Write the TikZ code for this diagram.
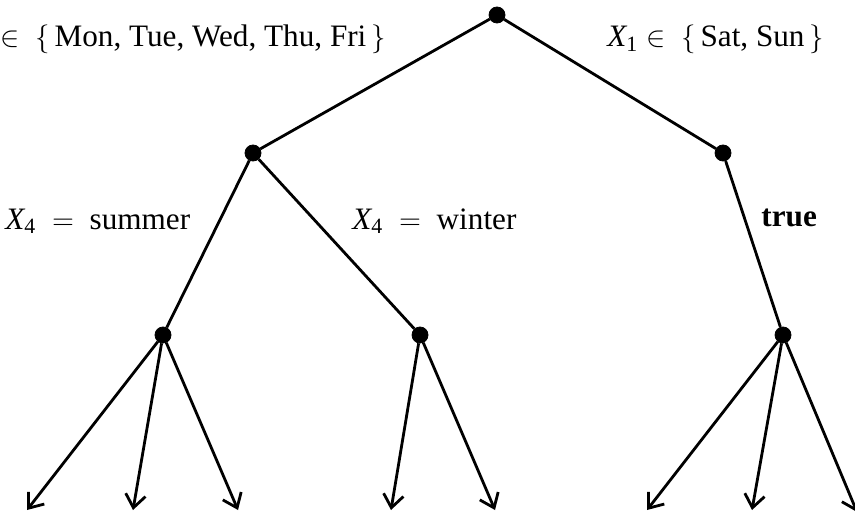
\documentclass[tikz,border=0pt]{standalone}
\usepackage{fontspec}
\setmainfont{Liberation Serif}
\usetikzlibrary{arrows.meta}
\tikzset{
    vertex/.style = {draw, fill=black, circle, inner sep=0pt, minimum size=8pt},
    branch/.style = {line width=1.4pt},
    leafarrow/.style = {line width=1.4pt, -{Straight Barb[length=6.5pt, width=10pt]}},
    cond/.style = {inner sep=0pt, anchor=base west, font=\fontsize{15.6}{18}\selectfont}
}

\begin{document}
\begin{tikzpicture}[x=0.5pt, y=-0.5pt]
\useasboundingbox (0,0) rectangle (855,513);

% decision nodes
\node[vertex] (root) at (497,15) {};
\node[vertex] (wkday) at (253,153) {};
\node[vertex] (wkend) at (723,153) {};
\node[vertex] (summer) at (163,335) {};
\node[vertex] (winter) at (420,335) {};
\node[vertex] (always) at (783,335) {};

% free ends of the leaf arrows
\coordinate (s1) at (27,510);
\coordinate (s2) at (133,510);
\coordinate (s3) at (238,510);
\coordinate (w1) at (391,510);
\coordinate (w2) at (495,510);
\coordinate (t1) at (647,510);
\coordinate (t2) at (752,510);
\coordinate (t3) at (857,512);

\draw[branch] (root) -- (wkday);
\draw[branch] (root) -- (wkend);
\draw[branch] (wkday) -- (summer);
\draw[branch] (wkday) -- (winter);
\draw[branch] (wkend) -- (always);

\foreach \leaf in {s1,s2,s3}
    \draw[leafarrow] (summer) -- (\leaf);
\foreach \leaf in {w1,w2}
    \draw[leafarrow] (winter) -- (\leaf);
\foreach \leaf in {t1,t2,t3}
    \draw[leafarrow] (always) -- (\leaf);

% branch conditions
\node[cond] (lwkday) at (0,47) {$\in\ \{\,$Mon, Tue, Wed, Thu, Fri$\,\}$};
\node[cond] (lwkend) at (607,47) {$\mathit{X}_{\mathrm{1}}\in\ \{\,$Sat, Sun$\,\}$};
\node[cond] (lsummer) at (5,229) {$\mathit{X}_{\mathrm{4}}\ =\ $ summer};
\node[cond] (lwinter) at (352,229) {$\mathit{X}_{\mathrm{4}}\ =\ $ winter};
\node[cond] (ltrue) at (761,227) {\textbf{true}};

\end{tikzpicture}
\end{document}
